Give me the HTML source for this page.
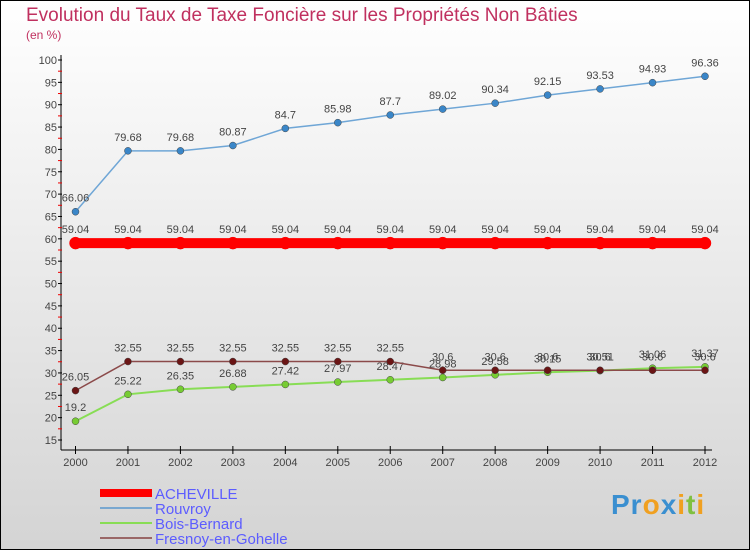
<!DOCTYPE html>
<html><head><meta charset="utf-8"><style>
body{margin:0}
#w{position:relative;width:748px;height:548px;border:1px solid #000;background:linear-gradient(#fff,#d4d4d4);font-family:"Liberation Sans",sans-serif;overflow:hidden}
.t{position:absolute;color:#c0305f}
</style></head><body>
<div id="w">
<div class="t" style="left:25px;top:4px;font-size:19px">Evolution du Taux de Taxe Foncière sur les Propriétés Non Bâties</div>
<div class="t" style="left:25px;top:27px;font-size:12px">(en %)</div>
<svg id="s" width="750" height="550" style="position:absolute;left:-1px;top:-1px"></svg>
<div style="position:absolute;left:610px;top:488px;font-size:28px;font-weight:bold;letter-spacing:1px"><span style="color:#3a8fd0">Pr</span><span style="color:#f0a020">o</span><span style="color:#3a8fd0">x</span><span style="color:#f0a020">i</span><span style="color:#80c040">t</span><span style="color:#f0a020">i</span></div>
</div>
<script>
const years=[2000,2001,2002,2003,2004,2005,2006,2007,2008,2009,2010,2011,2012];
const yTicks=[15,20,25,30,35,40,45,50,55,60,65,70,75,80,85,90,95,100];
const acheville=[59.04,59.04,59.04,59.04,59.04,59.04,59.04,59.04,59.04,59.04,59.04,59.04,59.04];
const rouvroy=[66.06,79.68,79.68,80.87,84.7,85.98,87.7,89.02,90.34,92.15,93.53,94.93,96.36];
const boisBernard=[19.2,25.22,26.35,26.88,27.42,27.97,28.47,28.98,29.58,30.15,30.51,31.06,31.37];
const fresnoy=[26.05,32.55,32.55,32.55,32.55,32.55,32.55,30.6,30.6,30.6,30.6,30.6,30.6];
const seriesNames=["ACHEVILLE","Rouvroy","Bois-Bernard","Fresnoy-en-Gohelle"];
const s=document.getElementById('s');const NS='http://www.w3.org/2000/svg';
function X(i){return 75.5+i*(705-75.5)/(years.length-1);}
function Y(v){return 440-(v-15)*(380/85);}
function el(t,a,p){const e=document.createElementNS(NS,t);for(const k in a)e.setAttribute(k,a[k]);(p||s).appendChild(e);return e;}
function txt(x,y,str,a){const e=el('text',Object.assign({x:x,y:y,'font-family':'Liberation Sans,sans-serif','font-size':11,fill:'#333'},a||{}));e.textContent=str;return e;}
let e=el('line',{x1:61,y1:55,x2:61,y2:450,stroke:'#000'});

e=el('line',{x1:61,y1:450,x2:712,y2:450,stroke:'#000'});

yTicks.forEach(v=>{el('line',{x1:58,y1:Y(v),x2:62,y2:Y(v),stroke:'#000'});
if(v<100)el('line',{x1:58,y1:Y(v+2.5),x2:62,y2:Y(v+2.5),stroke:'#e00'});
e=txt(57,Y(v)+4,String(v),{'text-anchor':'end',fill:'#444'});
});
years.forEach((y,i)=>{el('line',{x1:X(i),y1:446,x2:X(i),y2:454,stroke:'#000'});
e=txt(X(i),466,String(y),{'text-anchor':'middle',fill:'#444'});
});
function series(d,color,w,r,fill,name){
const g=el('g',{});
el('polyline',{points:d.map((v,i)=>X(i)+','+Y(v)).join(' '),fill:'none',stroke:color,'stroke-width':w},g);
d.forEach((v,i)=>{const c=el('circle',{cx:X(i),cy:Y(v),r:r,fill:fill,stroke:color==='#f00'?'#f00':'#444','stroke-width':0.5},g);

const t=txt(X(i),Y(v)-10,String(v),{'text-anchor':'middle',fill:'#444'},g);
});}
series(rouvroy,'#6fa6d6',1.5,3.5,'#3a86c8','series-rouvroy');
series(acheville,'#f00',10,6,'#f00','series-acheville');
series(boisBernard,'#88dd55',2,3.5,'#77cc33','series-bois-bernard');
series(fresnoy,'#8b4a4a',1.5,3.5,'#6b1515','series-fresnoy');
const lc=['#f00','#7aa8d0','#88dd55','#996666'],lw=[8,2,2,2];
seriesNames.forEach((n,i)=>{const g=el('g',{});
el('line',{x1:100,y1:493+i*15,x2:152,y2:493+i*15,stroke:lc[i],'stroke-width':lw[i]},g);
txt(155,499+i*15,n,{fill:'#5c5cff','font-size':15},g);});
</script>
</body></html>
